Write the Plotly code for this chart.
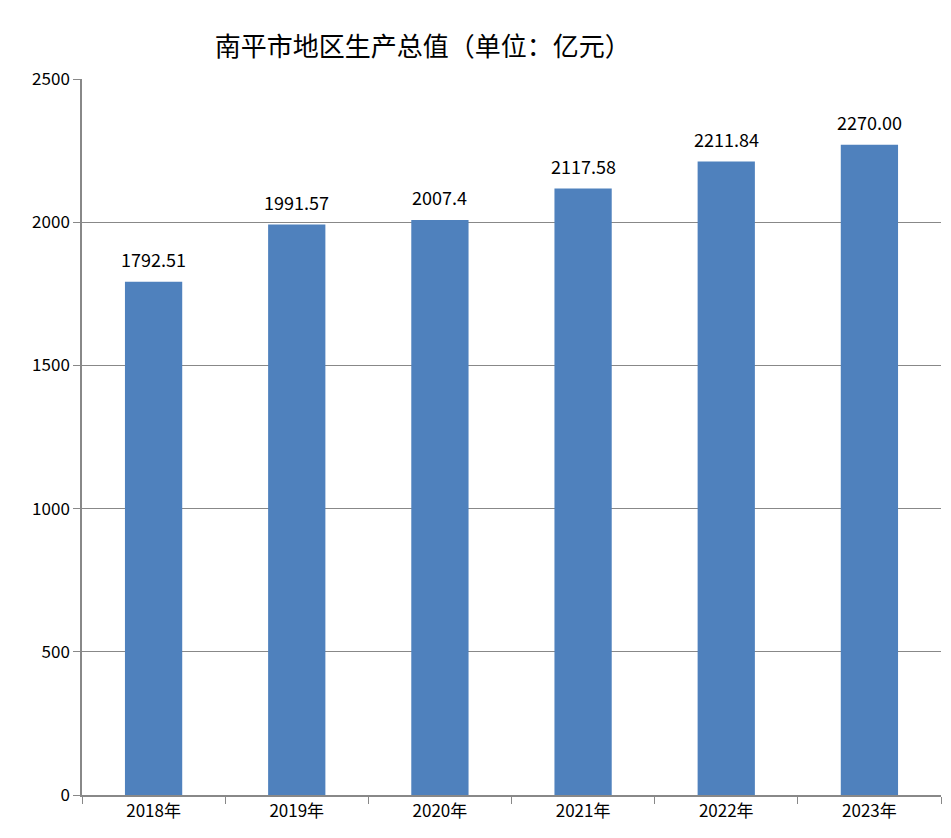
import plotly.graph_objects as go

years = ["2018年", "2019年", "2020年", "2021年", "2022年", "2023年"]
gdp = [1792.51, 1991.57, 2007.4, 2117.58, 2211.84, 2270.00]
labels = ["1792.51", "1991.57", "2007.4", "2117.58", "2211.84", "2270.00"]

font = "Noto Sans CJK SC"

fig = go.Figure(go.Bar(
    x=years, y=gdp, marker_color="#4F81BD", width=0.4, marker_line_width=0,
))

for yr, v, t in zip(years, gdp, labels):
    fig.add_annotation(x=yr, y=v, text=t, showarrow=False, yanchor="bottom",
                       yshift=8, font=dict(size=18, color="black", family=font))

fig.update_layout(
    width=951, height=838,
    margin=dict(l=74, r=18, t=71, b=51),
    plot_bgcolor="white", paper_bgcolor="white",
    title=dict(text="南平市地区生产总值（单位：亿元）", x=0.436, xanchor="center",
               y=0.953, yanchor="middle", font=dict(size=26, color="black", family=font)),
    font=dict(family=font, size=17, color="black"),
    showlegend=False,
)
fig.update_xaxes(showline=True, linecolor="#888", linewidth=1.5, ticks="outside",
                 tickson="boundaries", ticklen=7, tickcolor="#888", automargin=False)
fig.update_yaxes(range=[0, 2500], dtick=500, showgrid=True, gridcolor="#888", gridwidth=1,
                 showline=True, linecolor="#888", linewidth=1.5, ticks="outside",
                 ticklen=7, tickcolor="#888", zeroline=False, automargin=False)

fig.write_html("out.html")
